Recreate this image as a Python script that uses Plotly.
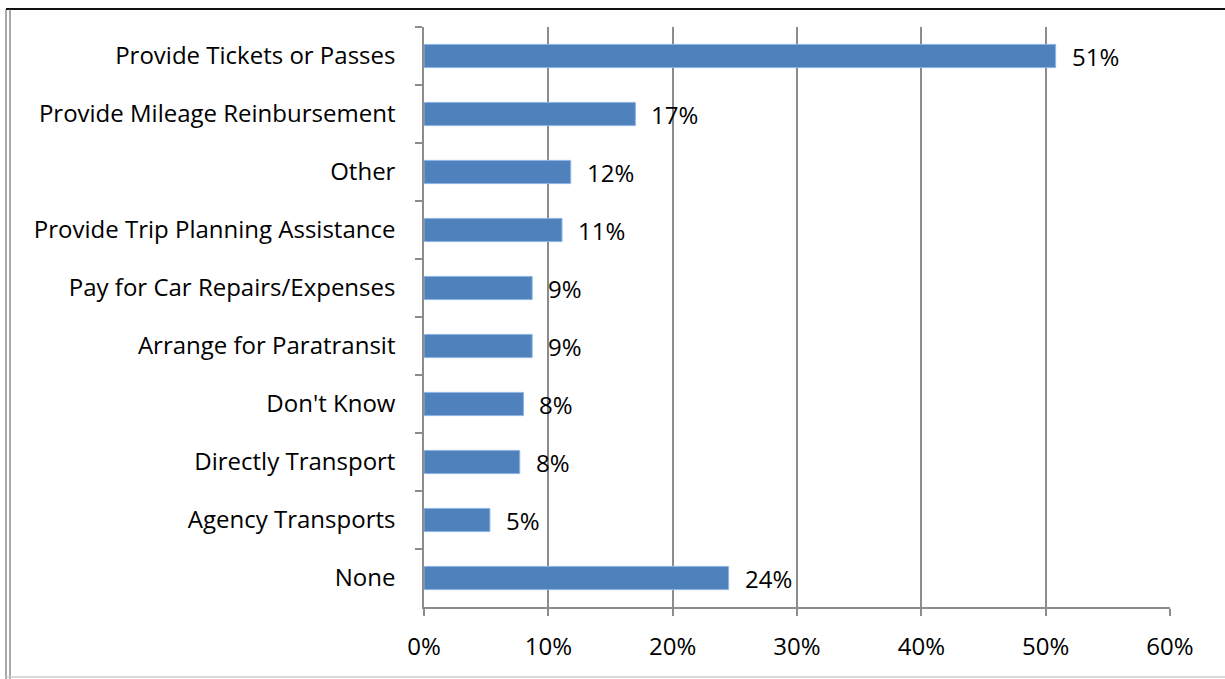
import plotly.graph_objects as go

categories = ["Provide Tickets or Passes", "Provide Mileage Reinbursement", "Other",
              "Provide Trip Planning Assistance", "Pay for Car Repairs/Expenses",
              "Arrange for Paratransit", "Don't Know", "Directly Transport",
              "Agency Transports", "None"]
values = [50.8, 17.0, 11.8, 11.1, 8.7, 8.7, 8.0, 7.7, 5.3, 24.5]
labels = ["51%", "17%", "12%", "11%", "9%", "9%", "8%", "8%", "5%", "24%"]
x_ticks = [0, 10, 20, 30, 40, 50, 60]
x_tick_labels = ["0%", "10%", "20%", "30%", "40%", "50%", "60%"]

FONT = "Open Sans, sans-serif"
FS = 24
W, H = 1225, 679
L, R, T, B = 424, 55, 27, 72

fig = go.Figure(go.Bar(
    x=values, y=categories, orientation="h",
    marker=dict(color="#4F81BD", line=dict(color="#8EB4E3", width=1)),
    width=0.4,
))

for v, c, t in zip(values, categories, labels):
    fig.add_annotation(x=v, y=c, text=t, showarrow=False, xanchor="left",
                       xshift=14, yshift=0, font=dict(size=FS, color="#000", family=FONT))

pw = W - L - R
ph = H - T - B
def px(x):
    return (x - L) / pw
def py(y):
    return 1 - (y - T) / ph

# outer frame
fig.add_shape(type="line", xref="paper", yref="paper", x0=px(6), x1=px(1225), y0=py(9), y1=py(9), line=dict(color="#111", width=2))
fig.add_shape(type="line", xref="paper", yref="paper", x0=px(6), x1=px(6), y0=py(9), y1=py(679), line=dict(color="#555", width=1))
fig.add_shape(type="line", xref="paper", yref="paper", x0=px(10), x1=px(10), y0=py(9), y1=py(679), line=dict(color="#555", width=1))
fig.add_shape(type="line", xref="paper", yref="paper", x0=px(6), x1=px(1225), y0=py(677), y1=py(677), line=dict(color="#ccc", width=1.5))

fig.update_layout(
    width=W, height=H,
    margin=dict(l=L, r=R, t=T, b=B),
    plot_bgcolor="white", paper_bgcolor="white",
    showlegend=False,
    bargap=0.6,
    font=dict(family=FONT, size=FS, color="#000"),
    xaxis=dict(range=[0, 60], tickvals=x_ticks, ticktext=x_tick_labels,
               showgrid=True, gridcolor="#8c8c8c", gridwidth=1.5,
               ticks="outside", ticklen=7, tickcolor="#8c8c8c", tickwidth=1.5,
               showline=True, linecolor="#8c8c8c", linewidth=1.5,
               zeroline=False, tickfont=dict(size=FS), ticklabelstandoff=10),
    yaxis=dict(autorange="reversed", showgrid=False, ticks="outside", ticklen=7,
               tickcolor="#8c8c8c", tickwidth=1.5, showline=True, linecolor="#8c8c8c",
               linewidth=1.5, tickson="boundaries", tickfont=dict(size=FS),
               ticklabelstandoff=22),
)

post = (
    "document.body.style.margin='0px';"
    "document.body.style.overflow='hidden';"
)
fig.write_html("out.html", config={"displayModeBar": False}, post_script=post)
